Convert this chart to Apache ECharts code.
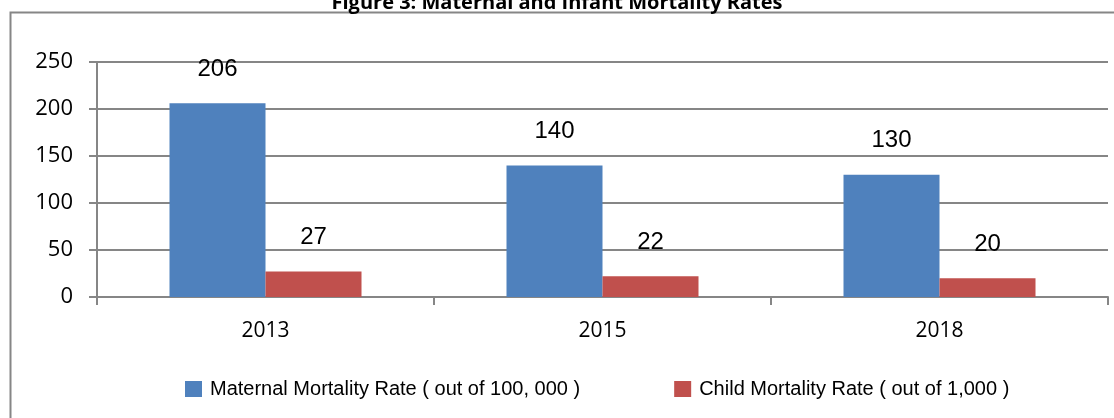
<!DOCTYPE html>
<html>
<head>
<meta charset="utf-8">
<script src="https://cdn.jsdelivr.net/npm/echarts@6/dist/echarts.min.js"></script>
<style>
  html, body { margin: 0; padding: 0; background: #fff; }
  #chart { width: 1114px; height: 418px; }
</style>
</head>
<body>
<div id="chart"></div>
<script>
var years = ['2013', '2015', '2018'];
var maternal = [206, 140, 130];
var child = [27, 22, 20];
var seriesNames = ['Maternal Mortality Rate ( out of 100, 000 )', 'Child Mortality Rate ( out of 1,000 )'];
var yTicks = [0, 50, 100, 150, 200, 250];

var chart = echarts.init(document.getElementById('chart'));

var barLabel = {
  show: true,
  position: 'top',
  distance: 22,
  color: '#000',
  fontFamily: 'Liberation Sans',
  fontSize: 24
};

var option = {
  animation: false,
  title: {
    text: 'Figure 3: Maternal and Infant Mortality Rates',
    left: 'center',
    top: -12,
    textStyle: { fontFamily: 'Open Sans', fontWeight: 'bold', fontSize: 20, color: '#000' }
  },
  graphic: [{
    type: 'rect',
    shape: { x: 10.5, y: 12.5, width: 1120, height: 420 },
    style: { fill: 'none', stroke: '#868686', lineWidth: 2 },
    silent: true
  }],
  legend: {
    data: seriesNames,
    left: 180,
    top: 374,
    itemWidth: 17,
    itemHeight: 16,
    itemGap: 94,
    icon: 'rect',
    textStyle: { fontFamily: 'Liberation Sans', fontSize: 20, color: '#000', padding: [0, 0, 0, 3] }
  },
  grid: { left: 97, right: 6, top: 62, bottom: 121 },
  xAxis: {
    type: 'category',
    data: years,
    axisLine: { lineStyle: { color: '#868686', width: 2 } },
    axisTick: { show: true, length: 8, lineStyle: { color: '#868686', width: 2 } },
    axisLabel: { color: '#000', fontFamily: 'Open Sans', fontSize: 21, margin: 24 }
  },
  yAxis: {
    type: 'value',
    min: yTicks[0],
    max: yTicks[yTicks.length - 1],
    interval: 50,
    axisLine: { show: true, lineStyle: { color: '#868686', width: 2 } },
    axisTick: { show: true, length: 8, lineStyle: { color: '#868686', width: 2 } },
    splitLine: { lineStyle: { color: '#868686', width: 2 } },
    axisLabel: { color: '#000', fontFamily: 'Open Sans', fontSize: 22, margin: 24 }
  },
  series: [{
    name: seriesNames[0],
    type: 'bar',
    data: maternal,
    barWidth: 96,
    barGap: '0%',
    itemStyle: { color: '#4F81BD' },
    label: barLabel
  }, {
    name: seriesNames[1],
    type: 'bar',
    data: child,
    barWidth: 96,
    itemStyle: { color: '#C0504D' },
    label: barLabel
  }]
};

chart.setOption(option);
</script>
</body>
</html>
